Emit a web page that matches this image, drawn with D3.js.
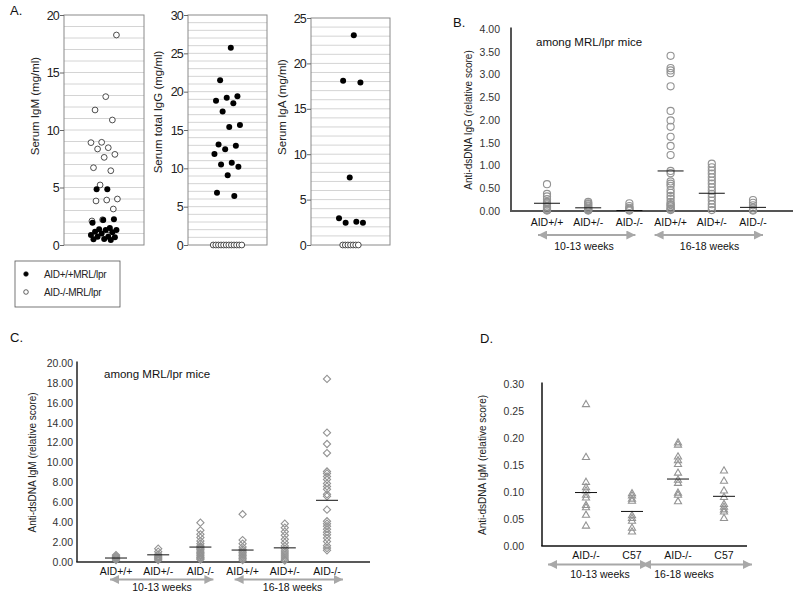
<!DOCTYPE html>
<html><head><meta charset="utf-8">
<script src="https://cdn.jsdelivr.net/npm/d3@7"></script>
<style>
body{margin:0;background:#fff;}
svg{font-family:"Liberation Sans",Arial,Helvetica,sans-serif;}
</style></head><body>
<svg id="c" width="800" height="597"></svg>
<script>
// ---------------- DATA ----------------
// Panel A (mg/ml)
const aTitles = ["Serum IgM (mg/ml)", "Serum total IgG (mg/ml)", "Serum IgA (mg/ml)"];
const aMax = [20, 30, 25];
const igmAIDpp = [4.84, 4.84, 2.23, 2.17, 1.94, 1.48, 1.36, 1.30, 1.30, 1.16, 1.10, 1.01, 0.87, 0.72, 0.72, 0.67, 0.52, 0.49, 0.43];
const igmAIDmm = [18.26, 12.9, 11.74, 10.87, 8.93, 8.9, 8.46, 8.35, 7.88, 7.62, 6.72, 6.46, 5.22, 4.0, 3.91, 3.83, 3.13, 2.2, 2.09, 1.3];
const iggAIDpp = [25.74, 21.5, 19.4, 19.2, 18.8, 18.5, 17.4, 15.65, 15.4, 13.1, 12.96, 12.5, 11.87, 10.74, 10.5, 10.2, 9.1, 6.83, 6.4];
const iggAIDmm = [0, 0, 0, 0, 0, 0, 0, 0, 0, 0, 0, 0];
const igaAIDpp = [23.1, 18.1, 17.9, 7.43, 2.94, 2.57, 2.46, 2.46];
const igaAIDmm = [0, 0, 0, 0, 0, 0, 0];
const legendLabels = ["AID+/+MRL/lpr", "AID-/-MRL/lpr"];

// Panels B and C categories
const catsBC = ["AID+/+", "AID+/-", "AID-/-", "AID+/+", "AID+/-", "AID-/-"];
const weekLabels = ["10-13 weeks", "16-18 weeks"];
const subtitle = "among MRL/lpr mice";

// Panel B: anti-dsDNA IgG
const bPP10 = [0.59, 0.375, 0.32, 0.26, 0.2, 0.17, 0.14, 0.1, 0.08, 0.05, 0.03, 0.02, 0.01];
const bPM10 = [0.2, 0.17, 0.15, 0.12, 0.1, 0.07, 0.05, 0.04, 0.02, 0.01];
const bMM10 = [0.17, 0.11, 0.07, 0.05, 0.03, 0.01];
const bPP16 = [3.41, 3.14, 3.09, 3.03, 2.74, 2.2, 1.99, 1.85, 1.63, 1.43, 1.23, 0.88, 0.83, 0.65, 0.6, 0.55, 0.46, 0.4, 0.33, 0.27, 0.2, 0.15, 0.13, 0.1, 0.06, 0.04, 0.02];
const bPM16 = [1.04, 0.96, 0.89, 0.82, 0.74, 0.67, 0.6, 0.52, 0.45, 0.375, 0.3, 0.23, 0.15, 0.08, 0.02];
const bMM16 = [0.24, 0.18, 0.125, 0.07, 0.03, 0.01];
const bMeans = [0.17, 0.07, 0.01, 0.88, 0.39, 0.08];
const bTitle = "Anti-dsDNA IgG (relative score)";

// Panel C: anti-dsDNA IgM
const cPP10 = [0.7, 0.6, 0.5, 0.4, 0.3, 0.2];
const cPM10 = [1.34, 1.04, 0.77, 0.6, 0.5, 0.4, 0.3, 0.2];
const cMM10 = [3.95, 3.18, 2.78, 2.45, 2.1, 1.84, 1.6, 1.5, 1.37, 1.25, 1.1, 0.95, 0.84, 0.7, 0.6, 0.45, 0.37, 0.25];
const cPP16 = [4.8, 2.2, 1.84, 1.5, 1.27, 1.1, 0.95, 0.8, 0.65, 0.5, 0.35, 0.2];
const cPM16 = [3.85, 3.45, 3.05, 2.68, 2.28, 1.94, 1.6, 1.34, 1.1, 0.9, 0.7, 0.5, 0.3, 0.15];
const cMM16 = [18.4, 13.0, 11.86, 10.95, 9.1, 8.9, 8.6, 8.3, 7.9, 7.6, 7.3, 6.8, 6.6, 5.26, 4.1, 3.85, 3.6, 3.3, 3.0, 2.75, 2.4, 2.05, 1.64, 1.4, 1.17];
const cMeans = [0.4, 0.72, 1.5, 1.2, 1.42, 6.2];
const cTitle = "Anti-dsDNA IgM (relative score)";

// Panel D: anti-dsDNA IgM, AID-/- vs C57
const catsD = ["AID-/-", "C57", "AID-/-", "C57"];
const dMM10 = [0.262, 0.164, 0.118, 0.108, 0.102, 0.094, 0.089, 0.075, 0.071, 0.057, 0.037];
const dC5710 = [0.097, 0.093, 0.087, 0.083, 0.056, 0.051, 0.046, 0.033, 0.026];
const dMM16 = [0.191, 0.187, 0.165, 0.158, 0.151, 0.135, 0.122, 0.116, 0.098, 0.094, 0.082];
const dC5716 = [0.139, 0.12, 0.102, 0.09, 0.077, 0.072, 0.067, 0.063, 0.051];
const dMeans = [0.099, 0.064, 0.124, 0.092];
const dTitle = "Anti-dsDNA IgM (relative score)";

// ---------------- DRAW ----------------
const svg = d3.select("#c");
const FONT = '"Liberation Sans",Arial,sans-serif';
const defs = svg.append("defs");
defs.append("marker").attr("id", "ah").attr("viewBox", "0 0 10 10")
  .attr("refX", 10).attr("refY", 5).attr("markerWidth", 10).attr("markerHeight", 9)
  .attr("markerUnits", "userSpaceOnUse").attr("orient", "auto-start-reverse")
  .append("path").attr("d", "M0,0L10,5L0,10Z").attr("fill", "#a8a8a8");

function panelLetter(t, x, y) {
  svg.append("text").attr("x", x).attr("y", y).attr("font-size", 13).attr("fill", "#111").text(t);
}

// ---- Panel A ----
panelLetter("A.", 10, 15);
const aLayout = [
  {l: 64, r: 144, t: 15, labX: 39, labY: 106},
  {l: 188, r: 267, t: 15, labX: 162, labY: 112},
  {l: 311, r: 390, t: 18, labX: 286, labY: 107}
];
const aPos = [igmAIDpp, iggAIDpp, igaAIDpp];
const aNeg = [igmAIDmm, iggAIDmm, igaAIDmm];
const aBottom = 245;
function jitter(i) { return (((i + 1) * 0.6180339887) % 1 - 0.5) * 28; }

aLayout.forEach((L, k) => {
  const g = svg.append("g");
  const y = d3.scaleLinear([0, aMax[k]], [aBottom, L.t]);
  g.selectAll("line.grid").data(d3.range(1, aMax[k])).join("line")
    .attr("x1", L.l).attr("x2", L.r).attr("y1", d => y(d)).attr("y2", d => y(d))
    .attr("stroke", "#d4d4d4").attr("stroke-width", 1);
  g.append("rect").attr("x", L.l).attr("y", L.t).attr("width", L.r - L.l).attr("height", aBottom - L.t)
    .attr("fill", "none").attr("stroke", "#8a8a8a").attr("stroke-width", 1);
  const ax = g.append("g").attr("transform", `translate(${L.l},0)`)
    .call(d3.axisLeft(y).tickValues(d3.range(0, aMax[k] + 1, 5)).tickSize(4).tickPadding(1));
  ax.select(".domain").remove();
  ax.selectAll("line").attr("stroke", "#666");
  ax.selectAll("text").attr("font-size", 12.5).attr("font-family", FONT).attr("fill", "#222").attr("letter-spacing", -0.8);
  g.append("text").attr("transform", `translate(${L.labX},${L.labY}) rotate(-90)`)
    .attr("text-anchor", "middle").attr("font-size", 11.5).attr("fill", "#222").text(aTitles[k]);
  const cx = (L.l + L.r) / 2;
  const neg = aNeg[k];
  const nz = neg.filter(v => v === 0).length;
  let zi = 0;
  neg.forEach((v, i) => {
    let dx;
    if (v === 0) { dx = (zi - (nz - 1) / 2) * 2.6; zi++; } else dx = jitter(i + 7);
    g.append("circle").attr("cx", cx + dx).attr("cy", y(v)).attr("r", 2.9)
      .attr("fill", "#fff").attr("stroke", "#222").attr("stroke-width", 0.8);
  });
  aPos[k].forEach((v, i) => {
    g.append("circle").attr("cx", cx + jitter(i)).attr("cy", y(v)).attr("r", 3)
      .attr("fill", "#000");
  });
});
// legend
const lg = svg.append("g");
lg.append("rect").attr("x", 15).attr("y", 261).attr("width", 105).attr("height", 46)
  .attr("fill", "#fff").attr("stroke", "#555").attr("stroke-width", 0.8);
legendLabels.forEach((t, i) => {
  const yy = 274 + i * 18;
  lg.append("circle").attr("cx", 26).attr("cy", yy).attr("r", 2.3)
    .attr("fill", i === 0 ? "#000" : "#fff").attr("stroke", "#222").attr("stroke-width", 0.7);
  lg.append("text").attr("x", 44).attr("y", yy + 4).attr("font-size", 10).attr("fill", "#222")
    .attr("letter-spacing", -0.3).text(t);
});

// ---- Column scatter panels ----
function columnPanel(o) {
  const g = svg.append("g");
  const y = d3.scaleLinear([0, o.max], [o.y0, o.y1]);
  const x = d3.scalePoint(d3.range(o.cats.length), [o.xa, o.xb]);
  const ax = g.append("g").attr("transform", `translate(${o.ax},0)`)
    .call(d3.axisLeft(y).tickValues(d3.range(0, o.max + o.step / 2, o.step))
      .tickFormat(d3.format(".2f")).tickSize(0).tickPadding(o.pad));
  ax.select(".domain").remove();
  ax.selectAll("text").attr("font-size", 10.5).attr("font-family", FONT).attr("fill", "#333");
  // axis lines
  g.append("line").attr("x1", o.ax).attr("x2", o.ax).attr("y1", o.y0).attr("y2", o.y1 - 1.5)
    .attr("stroke", o.axisColor).attr("stroke-width", o.axisW);
  g.append("line").attr("x1", o.ax - o.axisW / 2).attr("x2", o.xEnd).attr("y1", o.y0).attr("y2", o.y0)
    .attr("stroke", o.axisColor).attr("stroke-width", o.axisW);
  // y title
  g.append("text").attr("transform", `translate(${o.titleX},${(o.y0 + o.y1) / 2}) rotate(-90)`)
    .attr("text-anchor", "middle").attr("font-size", 10).attr("fill", "#222").text(o.title);
  if (o.subtitle) g.append("text").attr("x", o.subX).attr("y", o.subY).attr("font-size", 11.5).attr("fill", "#111").text(o.subtitle);
  // markers
  const sym = d3.symbol().type(o.shape).size(o.size);
  o.values.forEach((vals, i) => {
    g.selectAll(null).data(vals).join("path")
      .attr("d", sym)
      .attr("transform", d => `translate(${x(i)},${y(d)})${o.rotate ? " rotate(45)" : ""}`)
      .attr("fill", "none").attr("stroke", "#939393").attr("stroke-width", 1.1);
  });
  // mean lines
  g.selectAll("line.mean").data(o.means).join("line")
    .attr("x1", (d, i) => x(i) - o.meanW / 2).attr("x2", (d, i) => x(i) + o.meanW / 2)
    .attr("y1", d => y(d)).attr("y2", d => y(d)).attr("stroke", "#111").attr("stroke-width", 1);
  // category labels
  g.selectAll("text.cat").data(o.cats).join("text")
    .attr("x", (d, i) => x(i)).attr("y", o.catY).attr("text-anchor", "middle")
    .attr("font-size", 10.5).attr("fill", "#111").text(d => d);
  // arrows
  o.arrows.forEach((a, k) => {
    g.append("line").attr("x1", x(a.from) + a.p0).attr("x2", x(a.to) + a.p1)
      .attr("y1", o.arrowY).attr("y2", o.arrowY).attr("stroke", "#a8a8a8").attr("stroke-width", 2)
      .attr("marker-start", "url(#ah)").attr("marker-end", "url(#ah)");
    g.append("text").attr("x", x(a.from) + a.lx).attr("y", o.weekY).attr("text-anchor", "middle")
      .attr("font-size", 10.5).attr("fill", "#111").text(weekLabels[k]);
  });
}

// Panel B
panelLetter("B.", 453, 27);
columnPanel({
  max: 4, step: 0.5, y0: 211, y1: 29, ax: 511, xEnd: 793, pad: 11,
  xa: 547, xb: 753, cats: catsBC,
  values: [bPP10, bPM10, bMM10, bPP16, bPM16, bMM16], means: bMeans,
  shape: d3.symbolCircle, size: 40, rotate: false, meanW: 26,
  axisColor: "#555", axisW: 2, title: bTitle, titleX: 472,
  subtitle: subtitle, subX: 536, subY: 46,
  catY: 226, arrowY: 235, weekY: 250,
  arrows: [{from: 0, to: 2, p0: -9, p1: 6, lx: 37}, {from: 3, to: 5, p0: -16, p1: 10, lx: 39}]
});

// Panel C
panelLetter("C.", 10, 342);
columnPanel({
  max: 20, step: 2, y0: 562, y1: 363, ax: 77, xEnd: 370, pad: 4,
  xa: 116, xb: 327, cats: catsBC,
  values: [cPP10, cPM10, cMM10, cPP16, cPM16, cMM16], means: cMeans,
  shape: d3.symbolSquare, size: 26, rotate: true, meanW: 22,
  axisColor: "#222", axisW: 1.5, title: cTitle, titleX: 36,
  subtitle: subtitle, subX: 104, subY: 378,
  catY: 575, arrowY: 579.5, weekY: 591,
  arrows: [{from: 0, to: 2, p0: -6, p1: 13, lx: 46}, {from: 3, to: 5, p0: -8, p1: 16, lx: 50}]
});

// Panel D
panelLetter("D.", 480, 343);
columnPanel({
  max: 0.3, step: 0.05, y0: 546, y1: 384, ax: 542, xEnd: 747, pad: 18,
  xa: 586, xb: 724, cats: catsD,
  values: [dMM10, dC5710, dMM16, dC5716], means: dMeans,
  shape: d3.symbolTriangle, size: 22, rotate: false, meanW: 22,
  axisColor: "#111", axisW: 1.5, title: dTitle, titleX: 486,
  subtitle: null,
  catY: 559, arrowY: 564.5, weekY: 578,
  arrows: [{from: 0, to: 1, p0: -38, p1: 17, lx: 14}, {from: 2, to: 3, p0: -36, p1: 28, lx: 6}]
});
</script>
</body></html>
